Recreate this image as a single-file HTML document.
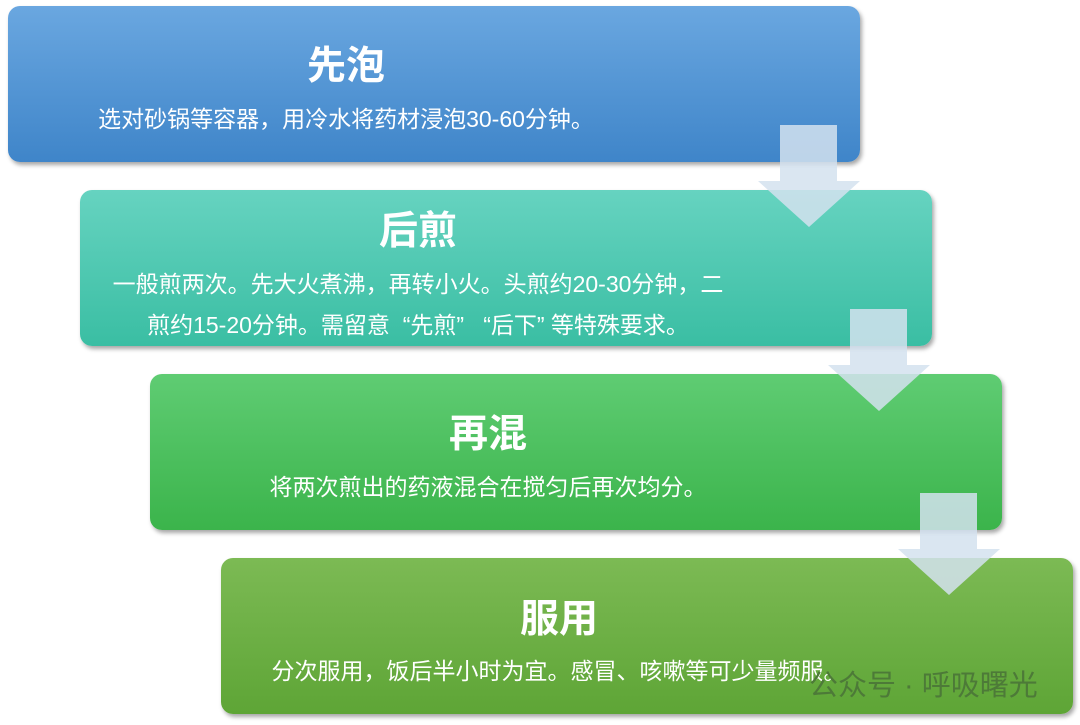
<!DOCTYPE html>
<html><head><meta charset="utf-8"><style>
body{margin:0;width:1080px;height:725px;background:#fff;position:relative;overflow:hidden;font-family:"Liberation Sans","Noto Sans CJK SC",sans-serif}
.b{position:absolute;width:852px;height:156px;border-radius:12px;box-shadow:2px 3px 4px rgba(0,0,0,.35);color:#fff}
.t{position:absolute;left:0;width:676px;text-align:center;font-weight:bold;font-size:39px;line-height:42px}
.s{position:absolute;left:0;width:676px;text-align:center;font-size:23px;line-height:41px;white-space:nowrap}
svg{position:absolute;left:0;top:0}
</style></head><body>
<div class="b" style="left:8px;top:6px;background:linear-gradient(#6aa7e0,#3f85c9)"><div class="t" style="top:40px">先泡</div><div class="s" style="top:93px">选对砂锅等容器，用冷水将药材浸泡30-60分钟。</div></div>
<div class="b" style="left:80px;top:190px;background:linear-gradient(#66d3c0,#3abea3)"><div class="t" style="top:21px">后煎</div><div class="s" style="top:74px">一般煎两次。先大火煮沸，再转小火。头煎约20-30分钟，二<br>煎约15-20分钟。需留意 &nbsp;“先煎” &nbsp; “后下”&nbsp;等特殊要求。</div></div>
<div class="b" style="left:150px;top:374px;background:linear-gradient(#5fcc73,#3bb44b)"><div class="t" style="top:40px">再混</div><div class="s" style="top:93px">将两次煎出的药液混合在搅匀后再次均分。</div></div>
<div class="b" style="left:221px;top:558px;background:linear-gradient(#7cba54,#5ea536)"><div class="t" style="top:41px">服用</div><div class="s" style="top:93px">分次服用，饭后半小时为宜。感冒、咳嗽等可少量频服。</div>
<div style="position:absolute;left:588px;top:104px;font-size:29px;color:#4d7a38;white-space:nowrap">公众号 · 呼吸曙光</div></div>
<svg width="1080" height="725">
<g fill="#d3e2ee" fill-opacity="0.85">
<polygon points="780,125 837,125 837,181 860,181 809,227 758,181 780,181"/>
<polygon points="850,309 907,309 907,365 930,365 879,411 828,365 850,365"/>
<polygon points="920,493 977,493 977,549 1000,549 949,595 898,549 920,549"/>
</g></svg>
</body></html>
